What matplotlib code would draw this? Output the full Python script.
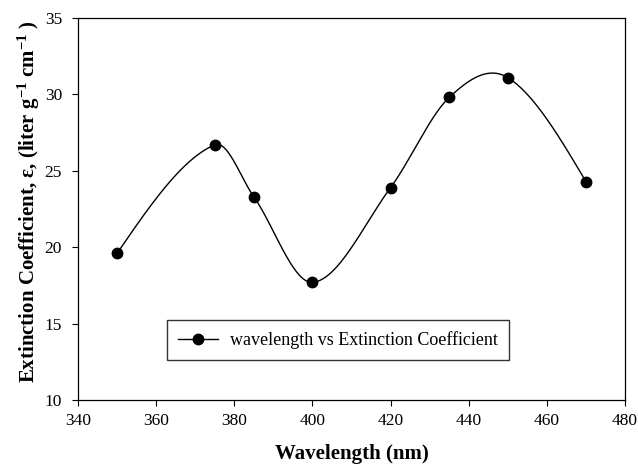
import numpy as np
import matplotlib
matplotlib.use("Agg")
import matplotlib.pyplot as plt

wavelength = [350, 375, 385, 400, 420, 435, 450, 470]
extinction = [19.6, 26.7, 23.3, 17.7, 23.9, 29.8, 31.1, 24.3]
x_ticks = [340, 360, 380, 400, 420, 440, 460, 480]
y_ticks = [10, 15, 20, 25, 30, 35]


def smooth_curve(x, y, per_seg=80):
    """Catmull-Rom style cubic Hermite curve through the data points,
    with zero curvature at both ends."""
    x = np.asarray(x, float)
    y = np.asarray(y, float)
    n = len(x)
    m = np.empty(n)
    for i in range(1, n - 1):
        m[i] = (y[i + 1] - y[i - 1]) / (x[i + 1] - x[i - 1])
    s0 = (y[1] - y[0]) / (x[1] - x[0])
    s1 = (y[-1] - y[-2]) / (x[-1] - x[-2])
    m[0] = (3 * s0 - m[1]) / 2
    m[-1] = (3 * s1 - m[-2]) / 2
    xs, ys = [], []
    for i in range(n - 1):
        h = x[i + 1] - x[i]
        t = np.linspace(0, 1, per_seg, endpoint=(i == n - 2))
        h00 = 2 * t ** 3 - 3 * t ** 2 + 1
        h10 = t ** 3 - 2 * t ** 2 + t
        h01 = -2 * t ** 3 + 3 * t ** 2
        h11 = t ** 3 - t ** 2
        xs.append(x[i] + t * h)
        ys.append(h00 * y[i] + h10 * h * m[i] + h01 * y[i + 1] + h11 * h * m[i + 1])
    return np.concatenate(xs), np.concatenate(ys)


plt.rcParams["font.family"] = ["Liberation Serif", "DejaVu Serif"]
plt.rcParams["mathtext.fontset"] = "custom"
plt.rcParams["mathtext.rm"] = "Liberation Serif:bold"
plt.rcParams["mathtext.it"] = "Liberation Serif:bold"
plt.rcParams["mathtext.bf"] = "Liberation Serif:bold"

fig = plt.figure(figsize=(6.38, 4.68), dpi=100)
ax = fig.add_axes([0.1223, 0.1453, 0.8573, 0.8162])
ax.set_xlim(340, 480)
ax.set_ylim(10, 35)

cx, cy = smooth_curve(wavelength, extinction)
ax.plot(cx, cy, color="black", lw=1.0)
ax.plot(wavelength, extinction, "o", color="black", ms=7.5, ls="none")
ax.plot([], [], "-o", color="black", ms=7.5, lw=1.0,
        label="wavelength vs Extinction Coefficient")

ax.set_xticks(x_ticks)
ax.set_yticks(y_ticks)
ax.tick_params(direction="out", length=4.5, width=0.8, labelsize=12.5,
               colors="black")
ax.tick_params(axis="y", pad=7)
ax.tick_params(axis="x", pad=5)
for s in ax.spines.values():
    s.set_linewidth(0.9)

ax.set_xlabel("Wavelength (nm)", fontsize=15, fontweight="bold", labelpad=11)
ax.set_ylabel(r"Extinction Coefficient, ε, (liter g$^{-1}$ cm$^{-1}$ )",
              fontsize=15, fontweight="bold")
ax.yaxis.set_label_coords(-0.066, 0.52)

leg = ax.legend(loc="upper left", bbox_to_anchor=(0.163, 0.209), fontsize=13,
                frameon=True, fancybox=False, edgecolor="black",
                handlelength=2.2, borderpad=0.6, handletextpad=0.7,
                borderaxespad=0)
leg.get_frame().set_linewidth(1.0)

fig.savefig("out.png", dpi=100)
